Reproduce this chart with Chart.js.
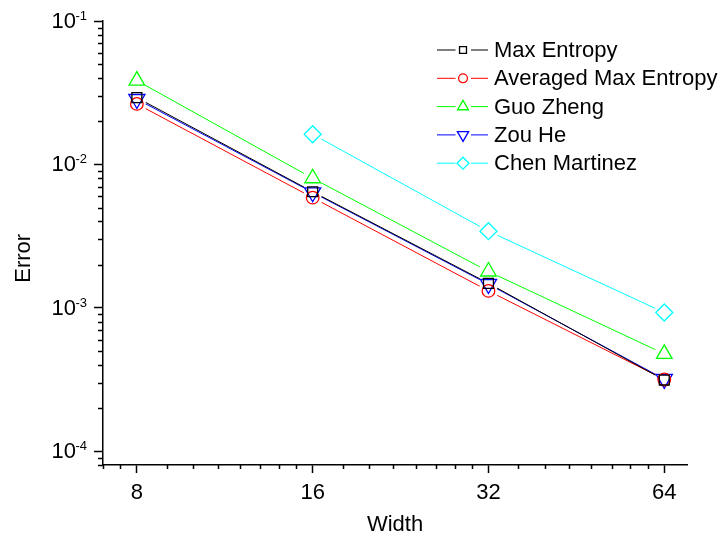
<!DOCTYPE html>
<html>
<head>
<meta charset="utf-8">
<script src="https://cdn.jsdelivr.net/npm/chart.js@4.4.0/dist/chart.umd.min.js"></script>
<style>
  html, body { margin: 0; padding: 0; background: #fff; }
  #wrap { width: 727px; height: 542px; position: relative; }
</style>
</head>
<body>
<div id="wrap"><canvas id="chart_error"></canvas></div>
<script>
var widths = [8, 16, 32, 64];
var maxEntropy = [0.0292, 0.00644, 0.00148, 0.000313];
var avgMaxEntropy = [0.0264, 0.00586, 0.00131, 0.000316];
var guoZheng = [0.0384, 0.0080, 0.00179, 0.000477];
var zouHe = [0.0285, 0.00637, 0.00146, 0.000318];
var chenMartinez = [null, 0.01622, 0.00342, 0.000926];
var seriesNames = ['Max Entropy', 'Averaged Max Entropy', 'Guo Zheng', 'Zou He', 'Chen Martinez'];
var xTickValues = [8, 16, 32, 64];
var yTickValues = [1e-4, 1e-3, 1e-2, 1e-1];
var yTickExponents = ['-4', '-3', '-2', '-1'];

var FONT = '"Liberation Sans", Arial, Helvetica, sans-serif';

function points(values) {
  return values.map(function(v, i) { return {x: widths[i], y: v}; });
}

var series = [
  {data: maxEntropy, color: '#000000', style: 'rect', radius: 7, rotation: 0},
  {data: avgMaxEntropy, color: '#ff0000', style: 'circle', radius: 6.3, rotation: 0},
  {data: guoZheng, color: '#00ff00', style: 'triangle', radius: 9, rotation: 0},
  {data: zouHe, color: '#0000ff', style: 'triangle', radius: 9.3, rotation: 180},
  {data: chenMartinez, color: '#00ffff', style: 'rectRot', radius: 8.5, rotation: 0}
];

var datasets = [];
series.forEach(function(s, i) {
  // line only, cut open around its own markers
  datasets.push({
    label: seriesNames[i],
    data: points(s.data),
    borderColor: s.color,
    borderWidth: 1,
    pointRadius: 0,
    fill: false,
    gap: 10,
    order: 1
  });
  datasets.push({
    label: seriesNames[i],
    data: points(s.data),
    showLine: false,
    pointStyle: s.style,
    pointRadius: s.radius,
    pointRotation: s.rotation,
    pointBorderColor: s.color,
    pointBackgroundColor: 'rgba(0,0,0,0)',
    pointBorderWidth: 1.3,
    order: 0
  });
});

var gapPlugin = {
  id: 'gaps',
  beforeDatasetDraw: function(chart, args) {
    var ds = chart.data.datasets[args.index];
    if (!ds.gap) return;
    var ctx = chart.ctx;
    ctx.save();
    ctx.beginPath();
    ctx.rect(0, 0, chart.width, chart.height);
    args.meta.data.forEach(function(p) {
      if (p.skip || isNaN(p.y)) return;
      ctx.moveTo(p.x + ds.gap, p.y);
      ctx.arc(p.x, p.y, ds.gap, 0, Math.PI * 2, true);
    });
    ctx.clip('evenodd');
  },
  afterDatasetDraw: function(chart, args) {
    if (chart.data.datasets[args.index].gap) chart.ctx.restore();
  }
};

var axisExtras = {
  id: 'axisExtras',
  afterDraw: function(chart) {
    var ctx = chart.ctx;
    var xs = chart.scales.x, ys = chart.scales.y;
    ctx.save();
    ctx.strokeStyle = '#000';
    ctx.lineWidth = 1.5;
    ctx.beginPath();
    // minor ticks on y: 2..9 per decade
    for (var d = -5; d <= -2; d++) {
      for (var k = 2; k <= 9; k++) {
        var v = k * Math.pow(10, d);
        if (v < ys.min * 0.999 || v > ys.max) continue;
        var py = Math.round(ys.getPixelForValue(v)) + 0.5;
        ctx.moveTo(ys.right - 5, py);
        ctx.lineTo(ys.right, py);
      }
    }
    // minor ticks on x: linear steps inside each octave
    [4, 8, 16, 32, 64].forEach(function(o) {
      for (var k = 1; k < 8; k++) {
        var v = o + k * o / 8;
        if (v < xs.min || v > xs.max) continue;
        var px = Math.round(xs.getPixelForValue(v)) + 0.5;
        ctx.moveTo(px, xs.top);
        ctx.lineTo(px, xs.top + 4);
      }
    });
    ctx.stroke();

    // y tick labels with raised exponent
    ctx.fillStyle = '#000';
    var right = ys.right - 16;
    yTickValues.forEach(function(v, i) {
      var py = ys.getPixelForValue(v);
      ctx.font = '13px ' + FONT;
      var ew = ctx.measureText(yTickExponents[i]).width;
      ctx.textAlign = 'left';
      ctx.textBaseline = 'alphabetic';
      ctx.fillText(yTickExponents[i], right - ew, py - 1);
      ctx.font = '22px ' + FONT;
      ctx.textAlign = 'right';
      ctx.textBaseline = 'middle';
      ctx.fillText('10', right - ew + 0.5, py + 1);
    });

    // legend inside the plot, upper right
    var a = chart.chartArea;
    var lx = a.right - 250, mx = a.right - 224;
    series.forEach(function(s, i) {
      var y = a.top + 29 + i * 28.3;
      ctx.strokeStyle = s.color;
      ctx.lineWidth = 1;
      ctx.beginPath();
      ctx.moveTo(lx, y); ctx.lineTo(mx - 7.5, y);
      ctx.moveTo(mx + 8, y); ctx.lineTo(lx + 51, y);
      ctx.stroke();
      ctx.fillStyle = 'rgba(0,0,0,0)';
      ctx.lineWidth = 1.3;
      Chart.helpers.drawPoint(ctx, {
        pointStyle: s.style, rotation: s.rotation, radius: s.radius * 0.7, borderWidth: 1.3
      }, mx, y);
      ctx.fillStyle = '#000';
      ctx.font = '22px ' + FONT;
      ctx.textAlign = 'left';
      ctx.textBaseline = 'middle';
      ctx.fillText(seriesNames[i], lx + 57, y + 1);
    });
    ctx.restore();
  }
};

var ctx = document.getElementById('chart_error');
var myChart = new Chart(ctx, {
  type: 'line',
  data: { datasets: datasets },
  options: {
    responsive: true,
    maintainAspectRatio: false,
    devicePixelRatio: 1,
    animation: false,
    events: [],
    layout: { padding: { top: 21, right: 40, left: 0, bottom: 0 } },
    plugins: { legend: { display: false }, tooltip: { enabled: false } },
    scales: {
      x: {
        type: 'logarithmic',
        min: 7,
        max: 70,
        afterBuildTicks: function(scale) {
          scale.ticks = xTickValues.map(function(v) { return {value: v}; });
        },
        afterFit: function(scale) { scale.height = 77; },
        border: { display: true, color: '#000', width: 1.5 },
        grid: { display: true, drawOnChartArea: false, drawTicks: true, tickLength: 8, tickColor: '#000', tickWidth: 1.5 },
        ticks: {
          autoSkip: false, maxRotation: 0, padding: 7, color: '#000',
          font: { family: FONT, size: 22 },
          callback: function(value) { return String(value); }
        },
        title: { display: true, text: 'Width', color: '#000', font: { family: FONT, size: 22 }, padding: { top: 0, bottom: 4 } }
      },
      y: {
        type: 'logarithmic',
        min: 8e-5,
        max: 0.1,
        afterBuildTicks: function(scale) {
          scale.ticks = yTickValues.map(function(v) { return {value: v}; });
        },
        afterFit: function(scale) { scale.width = 103; },
        border: { display: true, color: '#000', width: 1.5 },
        grid: { display: true, drawOnChartArea: false, drawTicks: true, tickLength: 9, tickColor: '#000', tickWidth: 1.5 },
        ticks: { display: false },
        title: { display: true, text: 'Error     ', color: '#000', font: { family: FONT, size: 22 }, padding: { top: 11, bottom: 0 } }
      }
    }
  },
  plugins: [gapPlugin, axisExtras]
});
</script>
</body>
</html>
